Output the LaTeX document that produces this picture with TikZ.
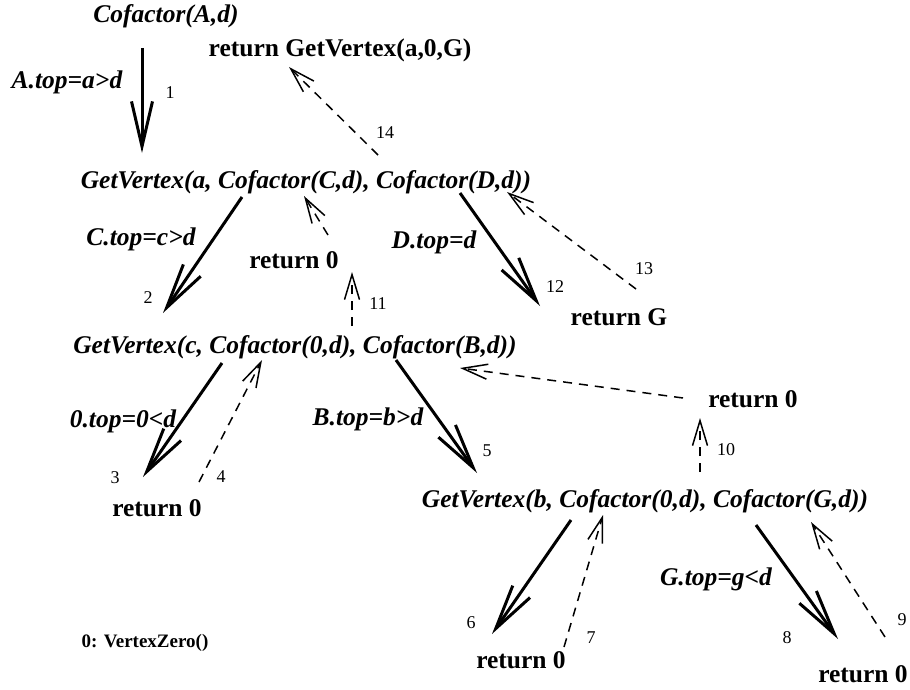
\documentclass[tikz,border=0pt]{standalone}
\usepackage{fontspec}
\setmainfont{Liberation Serif}
\usetikzlibrary{arrows.meta}

\begin{document}
\begin{tikzpicture}[x=1pt,y=-1pt,
  call/.style={anchor=base,inner sep=0pt,font=\fontsize{25.5}{30}\selectfont\bfseries\itshape},
  ret/.style={anchor=base,inner sep=0pt,font=\fontsize{25.5}{30}\selectfont\bfseries},
  cond/.style={anchor=base,inner sep=0pt,font=\fontsize{25.5}{30}\selectfont\bfseries\itshape},
  stepno/.style={inner sep=0pt,font=\fontsize{18}{20}\selectfont},
  legend/.style={anchor=base,inner sep=0pt,font=\fontsize{19}{22}\selectfont\bfseries},
  descend/.style={line width=3pt,-{Straight Barb[length=45pt,width=21pt,line width=3pt]}},
  ascend/.style={line width=1.5pt,dash pattern=on 9pt off 7pt,
                 -{Straight Barb[length=25pt,width=15pt,line width=1.5pt]}}]

\useasboundingbox[fill=white] (0,0) rectangle (910,690);

% calls and returns
\node[call] (cofA) at (166,23) {Cofactor(A,d)};
\node[ret]  (retGV) at (340,57) {return GetVertex(a,0,G)};
\node[call] (gva) at (306,188) {GetVertex(a, Cofactor(C,d), Cofactor(D,d))};
\node[ret]  (ret0a) at (294,268) {return 0};
\node[ret]  (retG) at (619,325) {return G};
\node[call] (gvc) at (295,353) {GetVertex(c, Cofactor(0,d), Cofactor(B,d))};
\node[ret]  (ret0b) at (157,516) {return 0};
\node[ret]  (ret0c) at (753,407) {return 0};
\node[call] (gvb) at (645,507) {GetVertex(b, Cofactor(0,d), Cofactor(G,d))};
\node[ret]  (ret0d) at (521,668) {return 0};
\node[ret]  (ret0e) at (863,682) {return 0};

% branch conditions
\node[cond] (condA) at (67,89)  {A.top=a>d};
\node[cond] (condC) at (141,245) {C.top=c>d};
\node[cond] (condD) at (434,248) {D.top=d};
\node[cond] (cond0) at (123,427) {0.top=0<d};
\node[cond] (condB) at (368,425) {B.top=b>d};
\node[cond] (condG) at (716,585) {G.top=g<d};

\node[legend] (zero) at (145,647) {0: VertexZero()};

% step numbers
\node[stepno] (s1)  at (170,93)  {1};
\node[stepno] (s2)  at (148,298) {2};
\node[stepno] (s3)  at (115,478) {3};
\node[stepno] (s4)  at (221,477) {4};
\node[stepno] (s5)  at (487,451) {5};
\node[stepno] (s6)  at (471,623) {6};
\node[stepno] (s7)  at (591,638) {7};
\node[stepno] (s8)  at (787,638) {8};
\node[stepno] (s9)  at (902,620) {9};
\node[stepno] (s10) at (726,450) {10};
\node[stepno] (s11) at (378,304) {11};
\node[stepno] (s12) at (555,287) {12};
\node[stepno] (s13) at (644,269) {13};
\node[stepno] (s14) at (385,133) {14};

% connector end points
\coordinate (c1a) at (142,48);  \coordinate (c1b) at (142,153);
\coordinate (c2a) at (242,197); \coordinate (c2b) at (163,313);
\coordinate (c3a) at (222,363); \coordinate (c3b) at (143,477);
\coordinate (c4a) at (199,482); \coordinate (c4b) at (262,360);
\coordinate (c5a) at (396,360); \coordinate (c5b) at (477,473);
\coordinate (c6a) at (571,520); \coordinate (c6b) at (492,634);
\coordinate (c7a) at (564,647); \coordinate (c7b) at (603,515);
\coordinate (c8a) at (756,525); \coordinate (c8b) at (838,639);
\coordinate (c9a) at (885,637); \coordinate (c9b) at (811,522);
\coordinate (c10a) at (700,472); \coordinate (c10b) at (700,418);
\coordinate (cRa) at (683,398); \coordinate (cRb) at (460,368);
\coordinate (c11a) at (352,326); \coordinate (c11b) at (352,272);
\coordinate (cUa) at (328,235); \coordinate (cUb) at (304,196);
\coordinate (c12a) at (460,193); \coordinate (c12b) at (540,306);
\coordinate (c13a) at (636,289); \coordinate (c13b) at (507,192);
\coordinate (c14a) at (378,155); \coordinate (c14b) at (289,67);

% recursive calls
\draw[descend] (c1a) -- (c1b);
\draw[descend] (c2a) -- (c2b);
\draw[descend] (c3a) -- (c3b);
\draw[descend] (c5a) -- (c5b);
\draw[descend] (c6a) -- (c6b);
\draw[descend] (c8a) -- (c8b);
\draw[descend] (c12a) -- (c12b);

% returned values
\draw[ascend] (c4a) -- (c4b);
\draw[ascend] (c7a) -- (c7b);
\draw[ascend] (c9a) -- (c9b);
\draw[ascend] (c10a) -- (c10b);
\draw[ascend] (cRa) -- (cRb);
\draw[ascend] (c11a) -- (c11b);
\draw[ascend] (cUa) -- (cUb);
\draw[ascend] (c13a) -- (c13b);
\draw[ascend] (c14a) -- (c14b);

\end{tikzpicture}
\end{document}
